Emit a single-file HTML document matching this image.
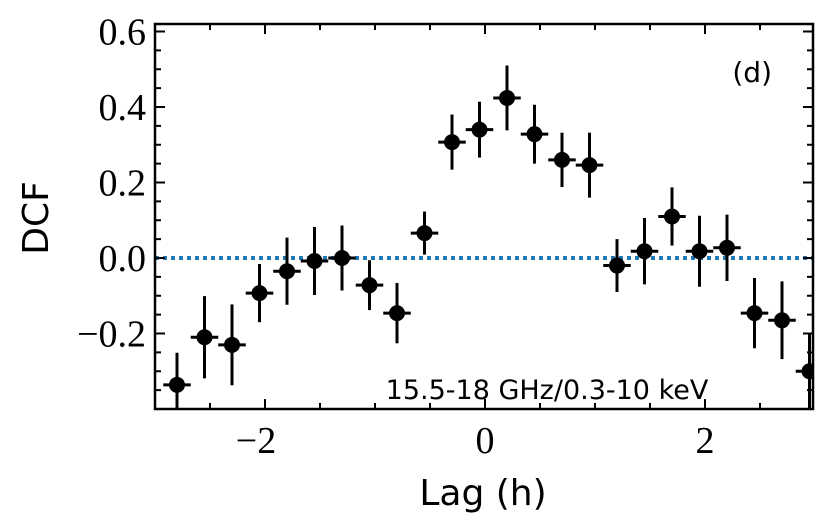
<!DOCTYPE html>
<html><head><meta charset="utf-8"><style>
body{margin:0;background:#fff;width:831px;height:524px;overflow:hidden}
svg{display:block}
</style></head><body>
<svg id="chart" width="831" height="524" xmlns="http://www.w3.org/2000/svg"></svg>
<script>
const lags = [-2.8,-2.55,-2.3,-2.05,-1.8,-1.55,-1.3,-1.05,-0.8,-0.55,-0.3,-0.05,0.2,0.45,0.7,0.95,1.2,1.45,1.7,1.95,2.2,2.45,2.7,2.95];
const dcf = [-0.336,-0.21,-0.23,-0.093,-0.035,-0.008,0.0,-0.072,-0.146,0.066,0.307,0.34,0.424,0.328,0.26,0.246,-0.02,0.018,0.11,0.018,0.027,-0.146,-0.165,-0.30];
const dcfErr = [0.085,0.109,0.107,0.077,0.089,0.09,0.086,0.066,0.08,0.057,0.073,0.074,0.086,0.078,0.072,0.086,0.07,0.088,0.077,0.094,0.088,0.093,0.103,0.1];
const lagHalfWidth = 0.125;
const xTicks = [-2,0,2];
const xTickLabels = ["\u22122","0","2"];
const yTicks = [-0.2,0.0,0.2,0.4,0.6];
const yTickLabels = ["\u22120.2","0.0","0.2","0.4","0.6"];

const L=155,R=813,T=24,B=409;
const xMin=-3,xMax=(R-485)/110,yMin=-(B-258)/377.5,yMax=(258-T)/377.5;
const X=v=>L+(v-xMin)/(xMax-xMin)*(R-L);
const Y=v=>B-(v-yMin)/(yMax-yMin)*(B-T);
const svg=document.getElementById('chart');
const NS='http://www.w3.org/2000/svg';
function mk(tag,attrs,parent){const e=document.createElementNS(NS,tag);for(const k in attrs)e.setAttribute(k,attrs[k]);(parent||svg).appendChild(e);return e;}

const defs=mk('defs',{});
const cp=mk('clipPath',{id:'clip'},defs);
mk('rect',{x:L,y:T,width:R-L,height:B-T},cp);

const zl=mk('line',{x1:L,x2:R,y1:Y(0),y2:Y(0),stroke:'#1f77b4','stroke-width':4,'stroke-dasharray':'4,4'});



const g=mk('g',{'clip-path':'url(#clip)'});


lags.forEach((lag,i)=>{
  const pg=mk('g',{},g);
  
  
  mk('line',{x1:X(lag),x2:X(lag),y1:Y(dcf[i]-dcfErr[i]),y2:Y(dcf[i]+dcfErr[i]),stroke:'#000','stroke-width':3},pg);
  mk('line',{x1:X(lag-lagHalfWidth),x2:X(lag+lagHalfWidth),y1:Y(dcf[i]),y2:Y(dcf[i]),stroke:'#000','stroke-width':3},pg);
  mk('circle',{cx:X(lag),cy:Y(dcf[i]),r:8,fill:'#000'},pg);
});

const tg=mk('g',{stroke:'#000','stroke-width':2});


for(let v=-3;v<=3.001;v+=0.5){const x=X(v);if(x<L||x>R)continue;const maj=Math.abs(v-Math.round(v/2)*2)<1e-6;const len=maj?10:6;
  mk('line',{x1:x,x2:x,y1:B,y2:B-len},tg);mk('line',{x1:x,x2:x,y1:T,y2:T+len},tg);}
for(let k=-8;k<=12;k++){const v=k*0.05;const y=Y(v);if(y<T||y>B)continue;const maj=(k%4===0);const len=maj?10:6;
  mk('line',{x1:L,x2:L+len,y1:y,y2:y},tg);mk('line',{x1:R,x2:R-len,y1:y,y2:y},tg);}

const fr=mk('rect',{x:L,y:T,width:R-L,height:B-T,fill:'none',stroke:'#000','stroke-width':2.5});



xTicks.forEach((v,i)=>{const t=mk('text',{x:X(v)-(v<0?9:0),y:B+44,'text-anchor':'middle','font-family':'"Liberation Serif",serif','font-size':38});t.textContent=xTickLabels[i];
  });
yTicks.forEach((v,i)=>{const t=mk('text',{x:L-9,y:Y(v)+13,'text-anchor':'end','font-family':'"Liberation Serif",serif','font-size':38});t.textContent=yTickLabels[i];
  });

const xt=mk('text',{x:483,y:505,'text-anchor':'middle','font-family':'"DejaVu Sans","Liberation Sans",sans-serif','font-size':36});xt.textContent='Lag (h)';

const yt=mk('text',{x:0,y:0,'text-anchor':'middle','font-family':'"DejaVu Sans","Liberation Sans",sans-serif','font-size':36,transform:'translate(48,218) rotate(-90)'});yt.textContent='DCF';

const pl=mk('text',{x:772,y:82,'text-anchor':'end','font-family':'"DejaVu Sans","Liberation Sans",sans-serif','font-size':28});pl.textContent='(d)';

const bl=mk('text',{x:547,y:399,'text-anchor':'middle','font-family':'"DejaVu Sans","Liberation Sans",sans-serif','font-size':27});bl.textContent='15.5-18 GHz/0.3-10 keV';

</script>
</body></html>
